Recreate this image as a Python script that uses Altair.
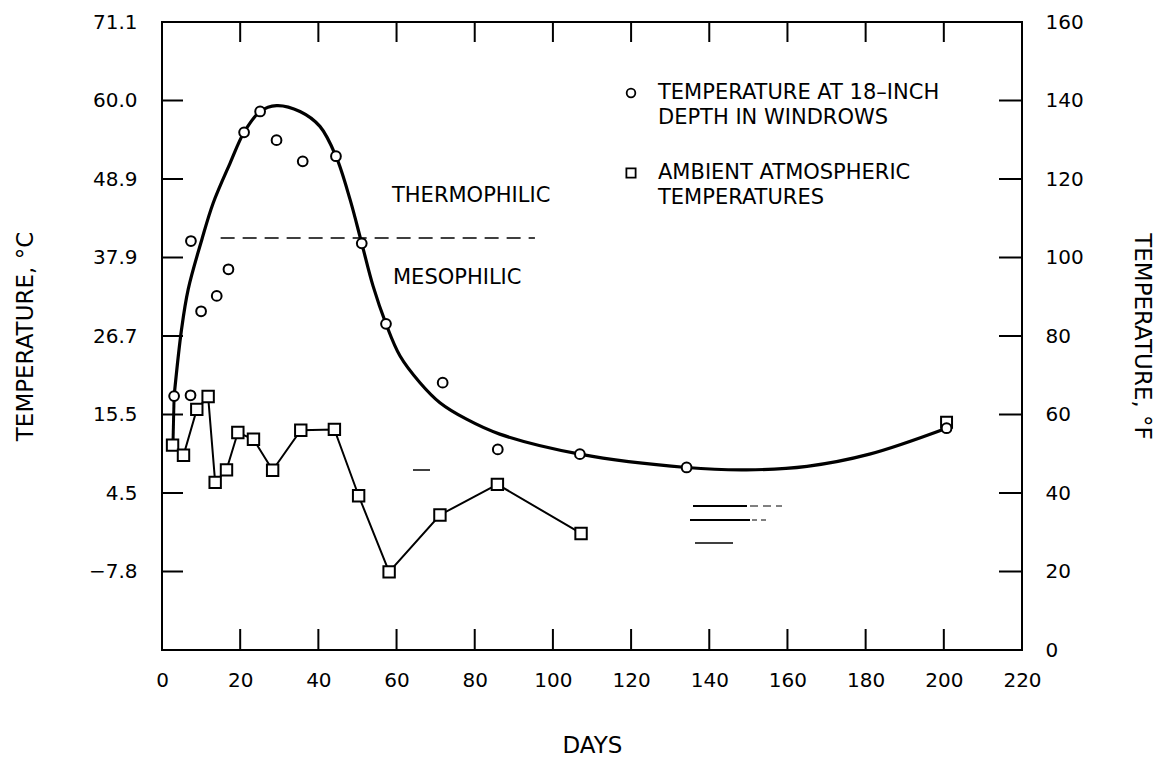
import altair as alt
import pandas as pd

# ---- data (days, temperature in deg F) ----
x_ticks = [0, 20, 40, 60, 80, 100, 120, 140, 160, 180, 200, 220]
f_ticks = [0, 20, 40, 60, 80, 100, 120, 140, 160]
c_labels = ["", "\u22127.8", "4.5", "15.5", "26.7", "37.9", "48.9", "60.0", "71.1"]
inner_f_ticks = [20, 40, 60, 80, 100, 120, 140]
inner_x_ticks = [20, 40, 60, 80, 100, 120, 140, 160, 180, 200]

windrow_days = [3.1, 7.3, 7.4, 10.0, 14.0, 17.0, 21.0, 25.1, 29.3, 36.0, 44.5, 51.1, 57.3, 71.8, 85.9, 106.9, 134.2, 200.7]
windrow_temp = [64.7, 64.9, 104.2, 86.3, 90.2, 97.0, 131.9, 137.2, 129.9, 124.5, 125.8, 103.6, 83.1, 68.1, 51.1, 49.9, 46.5, 56.5]

curve_days = [3.1, 5.0, 6.7, 10.2, 13.1, 17.4, 21.0, 25.1, 29.3, 35.3, 40.4, 44.5, 48.1, 51.1, 54.0,
              57.3, 60.9, 66.0, 71.1, 77.9, 86.4, 106.9, 134.2, 149.5, 165.0, 181.0, 200.7]
curve_temp = [64.7, 81.7, 91.9, 104.6, 113.9, 124.0, 131.9, 137.2, 138.7, 137.2, 133.4, 125.8, 114.8, 103.6, 92.7,
              83.1, 74.9, 68.1, 63.0, 58.8, 55.0, 49.9, 46.5, 45.9, 46.8, 49.9, 56.5]

# short connector drawn from the first windrow reading down to the first ambient reading
link_days = [3.1, 2.8]
link_temp = [64.7, 52.2]

ambient_days = [2.7, 5.5, 8.9, 11.8, 13.6, 16.5, 19.4, 23.4, 28.3, 35.5, 44.1, 50.3, 58.1, 71.1, 85.8, 107.2]
ambient_temp = [52.2, 49.6, 61.3, 64.6, 42.7, 45.9, 55.4, 53.7, 45.8, 56.0, 56.2, 39.3, 19.9, 34.4, 42.2, 29.7]
ambient_late_days = [200.7]
ambient_late_temp = [58.0]

divide_days = [15.0, 95.4]
divide_temp = [105.0, 105.0]

FONT = "DejaVu Sans"
W, H = 860, 628

xs = alt.Scale(domain=[0, 220], nice=False, zero=False)
ys = alt.Scale(domain=[0, 160], nice=False, zero=False)

label_expr = " : ".join(
    f"datum.value == {v} ? '{t}'" for v, t in zip(f_ticks, c_labels)
) + " : ''"

curve_df = pd.DataFrame({"d": curve_days, "t": curve_temp})
link_df = pd.DataFrame({"d": link_days, "t": link_temp})
wind_df = pd.DataFrame({"d": windrow_days, "t": windrow_temp})
amb_df = pd.DataFrame({"d": ambient_days, "t": ambient_temp})
amb_late_df = pd.DataFrame({"d": ambient_late_days, "t": ambient_late_temp})
div_df = pd.DataFrame({"d": divide_days, "t": divide_temp})

LBL = 20
TTL = 23
x_axis = alt.Axis(values=x_ticks, ticks=False, domain=False, grid=False, labelPadding=20,
                  labelFontSize=LBL, labelFont=FONT, labelColor="black",
                  title="DAYS", titleFont=FONT, titleFontSize=TTL, titleFontWeight="normal",
                  titlePadding=44, titleColor="black", labelFlush=False)
left_axis = alt.Axis(values=f_ticks, ticks=False, domain=False, grid=False, labelPadding=25,
                     labelExpr=label_expr, labelFontSize=LBL, labelFont=FONT, labelColor="black",
                     title="TEMPERATURE, \u00b0C", titleFont=FONT, titleFontSize=TTL,
                     titleFontWeight="normal", titlePadding=51, titleColor="black", labelFlush=False)
right_axis = alt.Axis(values=f_ticks, ticks=False, domain=False, grid=False, orient="right",
                      labelPadding=23, labelFontSize=LBL, labelFont=FONT, labelColor="black",
                      title="TEMPERATURE, \u00b0F", titleFont=FONT, titleFontSize=TTL,
                      titleFontWeight="normal", titlePadding=46, titleColor="black", labelFlush=False)

curve = alt.Chart(curve_df).mark_line(color="black", strokeWidth=3.2, interpolate="catmull-rom").encode(
    x=alt.X("d:Q", scale=xs, axis=x_axis),
    y=alt.Y("t:Q", scale=ys, axis=left_axis),
)
link = alt.Chart(link_df).mark_line(color="black", strokeWidth=3).encode(
    x=alt.X("d:Q", scale=xs), y=alt.Y("t:Q", scale=ys))
amb_line = alt.Chart(amb_df).mark_line(color="black", strokeWidth=2).encode(
    x=alt.X("d:Q", scale=xs), y=alt.Y("t:Q", scale=ys))
amb_pts = alt.Chart(amb_df).mark_point(shape="square", size=130, filled=True, fill="white",
                                       stroke="black", strokeWidth=2, opacity=1).encode(
    x=alt.X("d:Q", scale=xs), y=alt.Y("t:Q", scale=ys))
amb_late = alt.Chart(amb_late_df).mark_point(shape="square", size=120, filled=True, fill="white",
                                             stroke="black", strokeWidth=2, opacity=1).encode(
    x=alt.X("d:Q", scale=xs), y=alt.Y("t:Q", scale=ys))
wind_pts = alt.Chart(wind_df).mark_point(shape="circle", size=95, filled=True, fill="white",
                                         stroke="black", strokeWidth=2, opacity=1).encode(
    x=alt.X("d:Q", scale=xs), y=alt.Y("t:Q", scale=ys))
divide = alt.Chart(div_df).mark_line(color="black", strokeWidth=1.5, strokeDash=[14, 8]).encode(
    x=alt.X("d:Q", scale=xs), y=alt.Y("t:Q", scale=ys))

# inward ticks
lt = alt.Chart(pd.DataFrame({"t": inner_f_ticks})).mark_rule(color="black", strokeWidth=2).encode(
    y=alt.Y("t:Q", scale=ys), x=alt.value(0), x2=alt.value(21))
rt = alt.Chart(pd.DataFrame({"t": inner_f_ticks})).mark_rule(color="black", strokeWidth=2).encode(
    y=alt.Y("t:Q", scale=ys), x=alt.value(W - 23), x2=alt.value(W))
bt = alt.Chart(pd.DataFrame({"d": inner_x_ticks})).mark_rule(color="black", strokeWidth=2).encode(
    x=alt.X("d:Q", scale=xs), y=alt.value(H - 21), y2=alt.value(H))
tt = alt.Chart(pd.DataFrame({"d": inner_x_ticks})).mark_rule(color="black", strokeWidth=2).encode(
    x=alt.X("d:Q", scale=xs), y=alt.value(0), y2=alt.value(20))

# annotations and legend
one = pd.DataFrame({"k": [0]})


def label(text, px, py, size=21):
    return alt.Chart(one).mark_text(text=text, font=FONT, fontSize=size, color="black",
                                    align="left", baseline="middle").encode(
        x=alt.value(px), y=alt.value(py))


def stroke(x1, x2, yy, w=1.5, dash=None):
    kw = dict(color="black", strokeWidth=w)
    if dash:
        kw["strokeDash"] = dash
    return alt.Chart(one).mark_rule(**kw).encode(x=alt.value(x1), x2=alt.value(x2), y=alt.value(yy))


thermo = label("THERMOPHILIC", 230, 174)
meso = label("MESOPHILIC", 231, 256)
leg1a = label("TEMPERATURE AT 18\u2013INCH", 496, 71)
leg1b = label("DEPTH IN WINDROWS", 496, 96)
leg2a = label("AMBIENT ATMOSPHERIC", 496, 151)
leg2b = label("TEMPERATURES", 496, 176)
leg_c = alt.Chart(one).mark_point(shape="circle", size=75, stroke="black", strokeWidth=1.8, opacity=1).encode(
    x=alt.value(469), y=alt.value(71))
leg_s = alt.Chart(one).mark_point(shape="square", size=85, stroke="black", strokeWidth=1.8, opacity=1).encode(
    x=alt.value(469), y=alt.value(151))

# faint stray strokes left on the scanned figure
stray = [
    stroke(251, 268, 448, 1.5),
    stroke(531, 585, 484, 2),
    stroke(588, 620, 484, 1, [8, 5]),
    stroke(528, 588, 498, 2),
    stroke(590, 605, 498, 1, [5, 4]),
    stroke(533, 571, 521, 1.5),
]

main = alt.layer(curve, link, divide, amb_line, amb_pts, amb_late, wind_pts, lt, rt, bt, tt,
                 thermo, meso, leg1a, leg1b, leg2a, leg2b, leg_c, leg_s, *stray)

right = alt.Chart(pd.DataFrame({"t": [0]})).mark_point(opacity=0).encode(
    y=alt.Y("t:Q", scale=ys, axis=right_axis))

chart = alt.layer(main, right).resolve_scale(y="independent").properties(
    width=W, height=H,
    autosize=alt.AutoSizeParams(type="none"),
    padding={"left": 162, "top": 22, "right": 148, "bottom": 112},
    background="white",
).configure_view(stroke="black", strokeWidth=2)

chart.save("out.html", embed_options={"renderer": "svg", "actions": False})
